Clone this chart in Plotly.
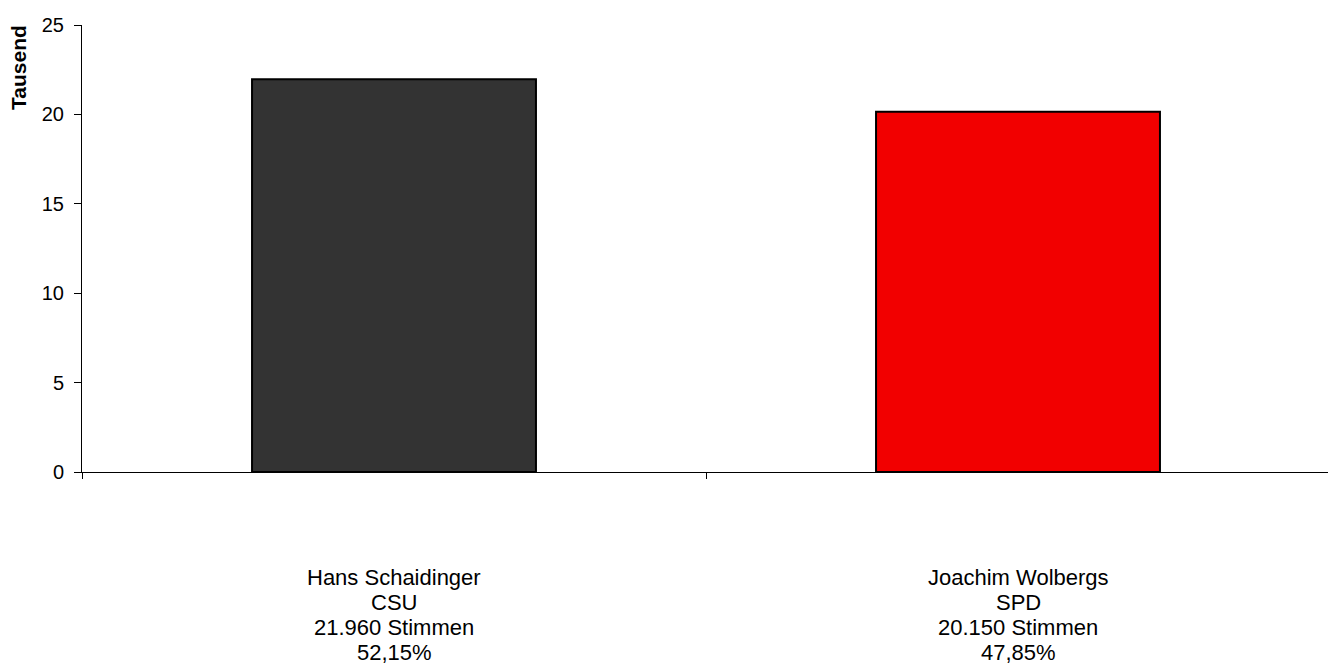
import plotly.graph_objects as go

categories = ["Hans Schaidinger", "Joachim Wolbergs"]
parties = ["CSU", "SPD"]
votes_text = ["21.960 Stimmen", "20.150 Stimmen"]
percent_text = ["52,15%", "47,85%"]
values_thousand = [21.960, 20.150]
bar_colors = ["#333333", "#F20000"]
y_ticks = [0, 5, 10, 15, 20, 25]

FONT = "Liberation Sans, Arial, sans-serif"

fig = go.Figure()
fig.add_trace(go.Bar(
    x=categories,
    y=values_thousand,
    marker=dict(color=bar_colors, line=dict(color="#000000", width=2)),
    width=0.455,
    hoverinfo="x+y",
))

annotations = []
for i, cat in enumerate(categories):
    lines = [categories[i], parties[i], votes_text[i], percent_text[i]]
    for j, txt in enumerate(lines):
        annotations.append(dict(
            x=cat, xref="x", y=0, yref="paper",
            text=txt, showarrow=False,
            xanchor="center", yanchor="middle",
            yshift=-(105 + 25.3 * j),
            font=dict(family=FONT, size=22, color="#000000"),
        ))

annotations.append(dict(
    x=0, xref="paper", xshift=-64, y=1, yref="paper", yshift=-43,
    text="<b>Tausend</b>", textangle=-90, showarrow=False,
    xanchor="center", yanchor="middle",
    font=dict(family=FONT, size=21, color="#000000"),
))

fig.update_layout(
    width=1328, height=660,
    margin=dict(l=74, r=6, t=12, b=196),
    paper_bgcolor="#FFFFFF", plot_bgcolor="#FFFFFF",
    showlegend=False,
    annotations=annotations,
    font=dict(family=FONT, color="#000000"),
)
fig.update_xaxes(
    type="category", range=[-0.5, 1.5],
    showline=True, linecolor="#000000", linewidth=1,
    ticks="outside", tickson="boundaries", ticklen=6, tickcolor="#000000",
    showticklabels=False, showgrid=False, zeroline=False,
)
fig.update_yaxes(
    range=[0, 25], tickvals=y_ticks,
    showline=True, linecolor="#000000", linewidth=1,
    ticks="outside", ticklen=7, tickcolor="#000000",
    tickfont=dict(family=FONT, size=20, color="#000000"),
    ticklabelstandoff=6,
    showgrid=False, zeroline=False,
)

fig.write_html("out.html")
